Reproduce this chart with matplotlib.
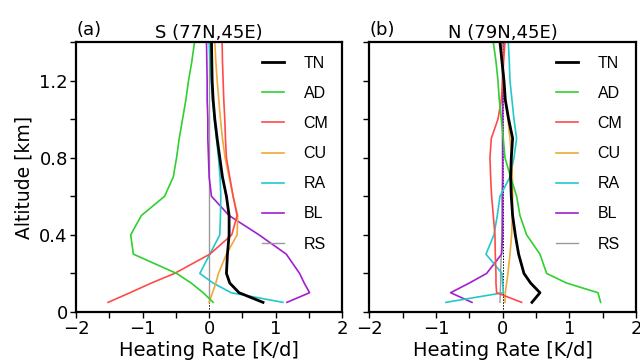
import numpy as np
import matplotlib
matplotlib.use("Agg")
import matplotlib.pyplot as plt
from matplotlib.ticker import MultipleLocator, FuncFormatter

plt.rcParams['font.family'] = ['DejaVu Sans']

# altitude levels [km]
alt = [0.05, 0.1, 0.15, 0.2, 0.3, 0.4, 0.5, 0.6, 0.7, 0.8, 0.9, 1.0, 1.1, 1.2, 1.3, 1.4]

# (a) S (77N,45E)
s_tn = [0.81, 0.45, 0.31, 0.26, 0.275, 0.30, 0.30, 0.26, 0.20, 0.16, 0.12, 0.085, 0.06, 0.045, 0.04, 0.035]
s_ad = [0.06, -0.09, -0.27, -0.49, -1.14, -1.18, -1.02, -0.67, -0.54, -0.49, -0.45, -0.40, -0.35, -0.31, -0.26, -0.22]
s_cm = [-1.52, -1.19, -0.87, -0.52, 0.01, 0.34, 0.42, 0.36, 0.31, 0.26, 0.245, 0.235, 0.22, 0.21, 0.20, 0.195]
s_cu = [0.0, 0.05, 0.10, 0.14, 0.26, 0.42, 0.43, 0.36, 0.30, 0.24, 0.20, 0.17, 0.145, 0.12, 0.10, 0.085]
s_ra = [1.11, 0.33, 0.06, -0.14, 0.01, 0.16, 0.17, 0.175, 0.165, 0.14, 0.11, 0.08, 0.05, 0.03, 0.015, 0.0]
s_bl = [1.17, 1.51, 1.43, 1.36, 1.16, 0.75, 0.30, 0.035, 0.0, -0.01, -0.02, -0.02, -0.03, -0.03, -0.035, -0.04]
s_rs = [0.0, 0.0, 0.0, 0.0, 0.0, 0.0, 0.0, 0.0, 0.0, 0.0, 0.0, 0.0, 0.0, 0.0, 0.0, 0.0]

# (b) N (79N,45E)
n_tn = [0.44, 0.56, 0.42, 0.32, 0.24, 0.19, 0.15, 0.13, 0.12, 0.13, 0.15, 0.09, 0.04, 0.02, -0.01, -0.04]
n_ad = [1.47, 1.43, 0.96, 0.66, 0.56, 0.36, 0.26, 0.21, 0.12, 0.035, 0.01, -0.02, -0.05, -0.07, -0.10, -0.14]
n_cm = [0.285, -0.09, -0.10, -0.10, -0.11, -0.115, -0.14, -0.165, -0.18, -0.19, -0.17, -0.07, -0.02, 0.0, 0.015, 0.035]
n_cu = [0.035, 0.04, 0.06, 0.08, 0.11, 0.135, 0.145, 0.15, 0.145, 0.135, 0.11, 0.08, 0.04, 0.02, 0.0, -0.015]
n_ra = [-0.85, 0.01, 0.0, -0.01, -0.25, -0.13, -0.08, -0.04, 0.11, 0.17, 0.21, 0.17, 0.14, 0.11, 0.10, 0.085]
n_bl = [-0.46, -0.78, -0.50, -0.24, -0.015, 0.0, 0.0, 0.0, 0.0, 0.0, 0.0, 0.0, 0.0, 0.0, 0.0, 0.0]
n_rs = [-0.04, -0.035, -0.03, -0.03, -0.02, -0.015, -0.01, -0.01, 0.0, 0.0, 0.0, 0.0, 0.0, 0.0, 0.0, 0.0]

labels = ['TN', 'AD', 'CM', 'CU', 'RA', 'BL', 'RS']
colors = ['black', '#2fd02f', '#ff4a4a', '#f0a83a', '#22c8cc', '#a020d0', '#9a9a9a']
widths = [2.0, 1.2, 1.2, 1.2, 1.2, 1.2, 1.0]

panels = [
    ('(a)', 'S (77N,45E)', [s_tn, s_ad, s_cm, s_cu, s_ra, s_bl, s_rs]),
    ('(b)', 'N (79N,45E)', [n_tn, n_ad, n_cm, n_cu, n_ra, n_bl, n_rs]),
]

fig = plt.figure(figsize=(6.4, 3.63), dpi=100)
axes = [fig.add_axes([0.119, 0.1405, 0.4156, 0.7438]),
        fig.add_axes([0.577, 0.1405, 0.4167, 0.7438])]

for i, (ax, (tag, title, series)) in enumerate(zip(axes, panels)):
    ax.axvline(0, color='black', lw=0.7, ls=(0, (1.5, 1.5)), zorder=1)
    # draw back to front so black TN sits on top
    for j in range(len(series) - 1, -1, -1):
        ax.plot(series[j], alt, color=colors[j], lw=widths[j], label=labels[j],
                zorder=3 if j == 0 else 2)
    ax.set_xlim(-2, 2)
    ax.set_ylim(0, 1.4)
    ax.xaxis.set_major_locator(MultipleLocator(0.5))
    ax.yaxis.set_major_locator(MultipleLocator(0.2))
    ax.xaxis.set_major_formatter(FuncFormatter(
        lambda v, p: ('%d' % round(v)).replace('-', '\u2212') if abs(v - round(v)) < 1e-6 else ''))
    if i == 0:
        ax.yaxis.set_major_formatter(FuncFormatter(
            lambda v, p: ('0' if abs(v) < 1e-6 else '%.1f' % v) if abs(v / 0.4 - round(v / 0.4)) < 1e-6 else ''))
        ax.set_ylabel('Altitude [km]', fontsize=13.5, labelpad=4)
    else:
        ax.set_yticklabels([])
    ax.tick_params(direction='out', length=4, width=1.0, labelsize=13, pad=2,
                   top=False, right=False)
    for sp in ax.spines.values():
        sp.set_linewidth(1.6)
    ax.set_xlabel('Heating Rate [K/d]', fontsize=14, labelpad=2)
    ax.set_title(title, fontsize=13, pad=3)
    ax.text(0.0, 1.012, tag, transform=ax.transAxes, fontsize=13, ha='left', va='bottom')
    h, l = ax.get_legend_handles_labels()
    order = [l.index(x) for x in labels]
    ax.legend([h[k] for k in order], [l[k] for k in order], loc='upper right',
              frameon=False, handlelength=1.35, handletextpad=1.25,
              labelspacing=0.95, borderaxespad=0.0, borderpad=0.85,
              prop={'family': 'Liberation Sans', 'size': 11.5})

fig.savefig('out.png', dpi=100)
